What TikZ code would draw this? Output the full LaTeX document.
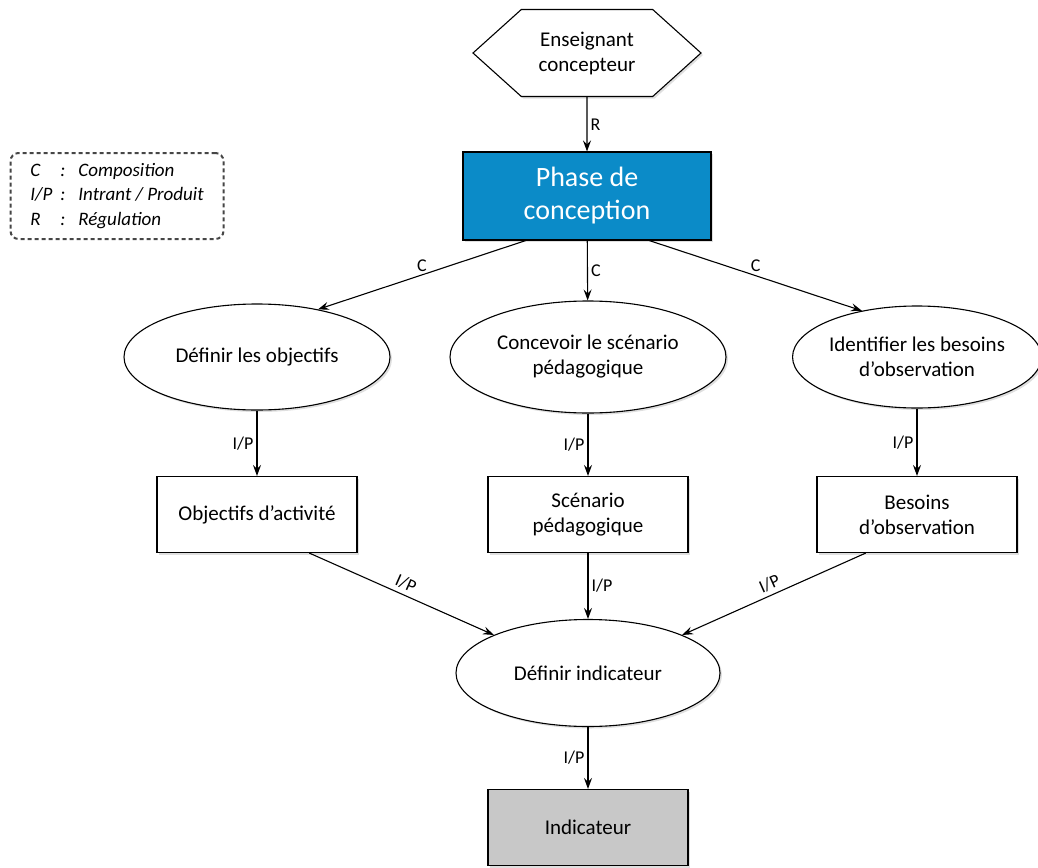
\documentclass[tikz,border=0pt]{standalone}
\usepackage{fontspec}
\setmainfont{Carlito}
\usepackage{tikz}
\usetikzlibrary{arrows.meta}
\usetikzlibrary{shapes.geometric,shapes.symbols,shadows,calc}

\definecolor{phaseblue}{RGB}{11,139,200}
\definecolor{indgray}{RGB}{200,200,200}
\definecolor{leggray}{RGB}{70,70,70}

\begin{document}
\begin{tikzpicture}[x=1pt,y=-1pt]
  \tikzset{shade/.style = {drop shadow={shadow xshift=2pt,shadow yshift=-2pt,opacity=0.25}}}
  \tikzset{proc/.style = {shape=ellipse,draw,line width=1.1pt,fill=white,inner sep=0pt,align=center,font=\fontsize{21}{25}\selectfont,shade}}
  \tikzset{prod/.style = {shape=rectangle,draw,line width=1.1pt,fill=white,minimum width=200pt,minimum height=76pt,align=center,font=\fontsize{21}{25}\selectfont,shade}}
  \tikzset{hexa/.style = {shape=signal,signal to=west and east,signal pointer angle=84,draw,line width=1.1pt,fill=white,minimum width=228pt,minimum height=87pt,inner sep=0pt,align=center,font=\fontsize{21}{25}\selectfont,shade}}
  \tikzset{phasebox/.style = {shape=rectangle,draw,line width=1.1pt,fill=phaseblue,text=white,minimum width=248pt,minimum height=88pt,align=center,font=\fontsize{28}{33}\selectfont,shade}}
  \tikzset{legende/.style = {shape=rectangle,draw=leggray,dash pattern=on 4pt off 3pt,line width=2pt,rounded corners=8pt,minimum width=213pt,minimum height=86pt,font=\fontsize{19}{24.5}\selectfont\itshape}}
  \tikzset{edge/.style = {-{Stealth[length=11pt,width=8pt,inset=4pt]},line width=1.1pt}}
  \tikzset{lbl/.style = {font=\fontsize{18}{20}\selectfont,inner sep=3pt}}

  \useasboundingbox (0,0) rectangle (1038,867);

	\node[hexa] (ens) at (587,53) {Enseignant\\concepteur};
	\node[phasebox] (phase) at (587,196) {Phase de\\conception};
	\node[legende] (leg) at (117,196) {\begin{tabular}{@{}l@{\hspace{8pt}}l@{\hspace{13pt}}l@{}}C & : & Composition\\I/P & : & Intrant / Produit\\R & : & Régulation\end{tabular}};

	\node[proc,minimum width=266pt,minimum height=106pt] (obj) at (257,357) {Définir les objectifs};
	\node[proc,minimum width=276pt,minimum height=112pt] (scen) at (588,357) {Concevoir le scénario\\pédagogique};
	\node[proc,minimum width=242pt,minimum height=102pt] (besoins) at (917,357) {Identifier les besoins\\d’observation};

	\node[prod] (objP) at (257,514.5) {Objectifs d’activité};
	\node[prod] (scenP) at (588,514.5) {Scénario\\pédagogique};
	\node[prod] (besoinsP) at (917,514.5) {Besoins\\d’observation};

	\node[proc,minimum width=264pt,minimum height=107pt] (defInd) at (588,673) {Définir indicateur};
	\node[prod,fill=indgray] (ind) at (588,827.5) {Indicateur};

	\draw[edge] (ens) -- node[lbl,right] {R} (phase);
	\draw[edge] ($(phase.south west)!0.254!(phase.south east)$) -- node[lbl,above] {C} (obj.38);
	\draw[edge] (phase) -- node[lbl,right] {C} (scen);
	\draw[edge] ($(phase.south west)!0.75!(phase.south east)$) -- node[lbl,above] {C} (besoins.140);

       \foreach \from/\to in {obj/objP, scen/scenP, besoins/besoinsP, defInd/ind}
    \draw[edge] (\from) -- node[lbl,left] {I/P} (\to);

	\draw[edge] ($(objP.south west)!0.76!(objP.south east)$) -- node[lbl,above,sloped,inner sep=4pt] {I/P} (defInd.158);
	\draw[edge] (scenP) -- node[lbl,right] {I/P} (defInd);
	\draw[edge] ($(besoinsP.south west)!0.245!(besoinsP.south east)$) -- node[lbl,above,sloped,inner sep=4pt] {I/P} (defInd.22);
\end{tikzpicture}
\end{document}
